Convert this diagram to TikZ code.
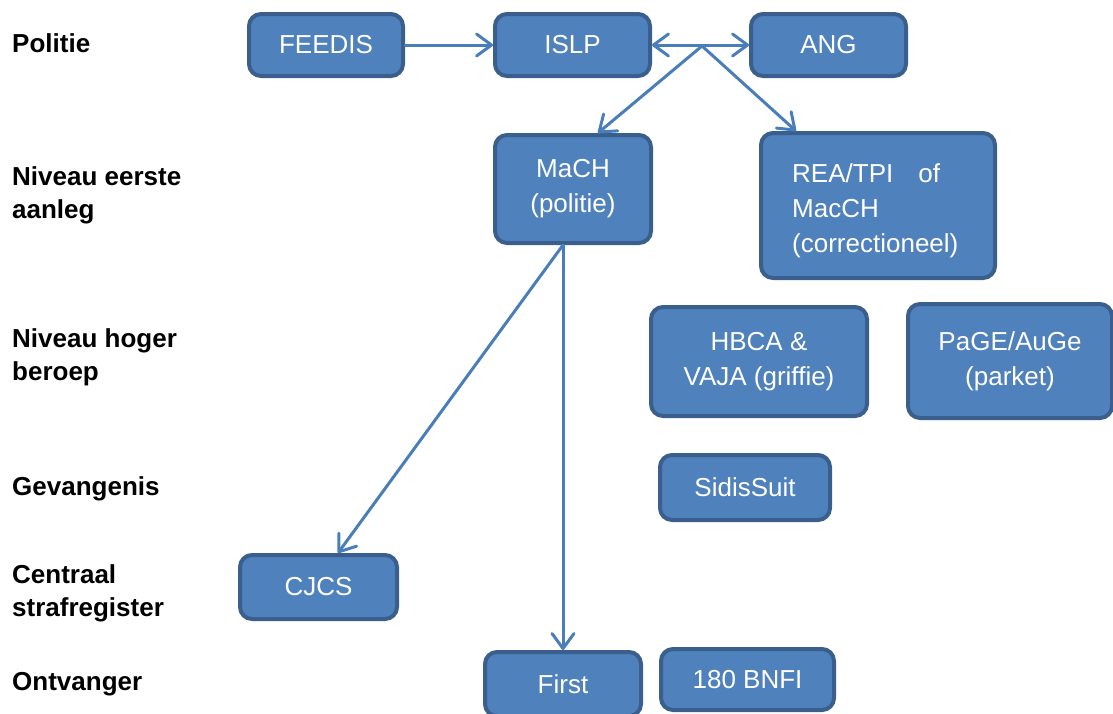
\documentclass[tikz,border=0pt]{standalone}
\usepackage{fontspec}
\setmainfont{Liberation Sans}
\usetikzlibrary{arrows.meta}
\definecolor{fillc}{HTML}{4F81BD}
\definecolor{bordc}{HTML}{3A5F8C}
\definecolor{arrc}{HTML}{4A7EBB}
\newcommand\bxfont{\fontsize{26}{35}\selectfont}
\newcommand\lbfont{\fontsize{26}{33}\selectfont\bfseries}
\tikzset{
  >={Straight Barb[length=15pt,width=22pt,round]},
  box/.style={draw=bordc, fill=fillc, line width=4pt, rounded corners=12pt,
    text=white, font=\bxfont, align=center, inner sep=0pt},
  lbl/.style={font=\lbfont, anchor=base west, align=left, inner sep=0pt},
  arr/.style={draw=arrc, line width=3pt, line cap=round, ->},
  arrboth/.style={draw=arrc, line width=3pt, line cap=round, <->}
}
\begin{document}
\begin{tikzpicture}[x=1pt,y=-1pt]
\useasboundingbox (0,0) rectangle (1113,713);
\clip (0,0) rectangle (1113,713);
% left labels (anchor = baseline of last line)
\node[lbl] (l1) at (12,52) {Politie};
\node[lbl] (l2) at (12,218) {Niveau eerste\\aanleg};
\node[lbl] (l3) at (12,380) {Niveau hoger\\beroep};
\node[lbl] (l4) at (12,495) {Gevangenis};
\node[lbl] (l5) at (12,616) {Centraal\\strafregister};
\node[lbl] (l6) at (12,690) {Ontvanger};
% boxes
\node[box, minimum width=154pt, minimum height=62pt] (feedis) at (326,45) {FEEDIS};
\node[box, minimum width=155pt, minimum height=62pt] (islp) at (572.5,45) {ISLP};
\node[box, minimum width=155pt, minimum height=62pt] (ang) at (828.5,45) {ANG};
\node[box, minimum width=156pt, minimum height=108pt] (mach) at (573,189) {MaCH\\(politie)};
\node[box, minimum width=234pt, minimum height=145pt] (rea) at (878,205.5) {};
\node[text=white, font=\bxfont, align=left, anchor=base west, inner sep=0pt] (reatext) at (792,252)
  {REA/TPI\hspace{25pt}of\\MacCH\\(correctioneel)};
\node[box, minimum width=216pt, minimum height=109pt] (hbca) at (759,361.5) {HBCA \&\\VAJA (griffie)};
\node[box, minimum width=204pt, minimum height=114pt] (page) at (1010,361) {PaGE/AuGe\\(parket)};
\node[box, minimum width=170pt, minimum height=65pt] (sidis) at (745,487.5) {SidisSuit};
\node[box, minimum width=157pt, minimum height=64pt] (cjcs) at (318.5,587) {CJCS};
\node[box, minimum width=156pt, minimum height=64pt] (first) at (563,684) {First};
\node[box, minimum width=173pt, minimum height=61pt] (bnfi) at (747.5,679.5) {180 BNFI};
% connectors
\coordinate (j) at (702,46);
\coordinate (m) at ([xshift=-10pt]mach.south);
\draw[arr] (feedis) -- (islp);
\draw[arrboth] (islp) -- (ang);
\draw[arr] (j) -- ([xshift=25pt]mach.north);
\draw[arr] (j) -- ([xshift=-82pt]rea.north);
\draw[arr] (m) -- ([xshift=19.5pt]cjcs.north);
\draw[arr] (m) -- (first.north);
\end{tikzpicture}
\end{document}
